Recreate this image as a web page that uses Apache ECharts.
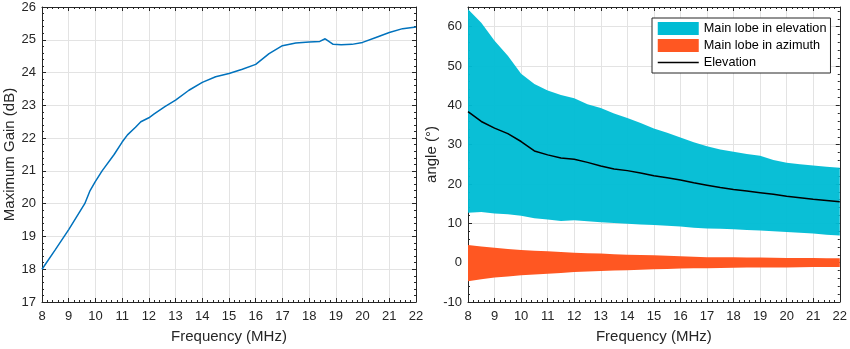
<!DOCTYPE html>
<html>
<head>
<meta charset="utf-8">
<script src="https://cdn.jsdelivr.net/npm/echarts@6/dist/echarts.min.js"></script>
<style>html,body{margin:0;padding:0;background:#fff}#c{width:850px;height:349px}</style>
</head>
<body>
<div id="c"></div>
<script>
// ---- Left panel: maximum gain ----
const gainFreq = [8, 8.5, 9, 9.6, 9.8, 10, 10.25, 10.7, 11, 11.2, 11.5, 11.7, 12, 12.2, 12.6, 13, 13.5, 14, 14.5, 15, 15.5, 16, 16.5, 17, 17.5, 18, 18.4, 18.6, 18.9, 19.2, 19.6, 20, 20.5, 21, 21.5, 22];
const gain = [18.0, 18.6, 19.21, 20.0, 20.4, 20.68, 21.0, 21.5, 21.88, 22.1, 22.33, 22.5, 22.62, 22.74, 22.96, 23.16, 23.46, 23.7, 23.87, 23.97, 24.1, 24.25, 24.58, 24.82, 24.9, 24.93, 24.95, 25.03, 24.86, 24.85, 24.86, 24.92, 25.07, 25.22, 25.34, 25.39];

// ---- Right panel: lobes ----
const bandFreq = [8, 8.5, 9, 9.5, 10, 10.5, 11, 11.5, 12, 12.5, 13, 13.5, 14, 14.5, 15, 15.5, 16, 16.5, 17, 17.5, 18, 18.5, 19, 19.5, 20, 20.5, 21, 21.5, 22];
const elevUpper = [64.4, 61.0, 56.4, 52.6, 48.0, 45.4, 43.8, 42.6, 41.8, 40.3, 39.3, 37.9, 36.8, 35.5, 34.1, 33.0, 31.8, 30.6, 29.6, 28.8, 28.2, 27.6, 27.2, 26.1, 25.4, 25.0, 24.7, 24.4, 24.1];
const elevLower = [12.7, 12.9, 12.5, 12.3, 11.9, 11.3, 11.0, 10.6, 10.8, 10.5, 10.3, 10.1, 9.9, 9.7, 9.6, 9.4, 9.2, 8.9, 8.7, 8.6, 8.5, 8.3, 8.2, 8.0, 7.8, 7.6, 7.4, 7.1, 6.9];
const elevation = [38.4, 35.9, 34.2, 32.8, 30.8, 28.4, 27.4, 26.6, 26.3, 25.5, 24.6, 23.8, 23.4, 22.8, 22.1, 21.6, 21.0, 20.3, 19.7, 19.1, 18.6, 18.2, 17.8, 17.4, 16.9, 16.5, 16.1, 15.8, 15.5];
const aziUpper = [4.5, 4.1, 3.8, 3.5, 3.2, 3.05, 2.9, 2.7, 2.5, 2.4, 2.3, 2.15, 2.0, 1.95, 1.9, 1.75, 1.6, 1.5, 1.4, 1.38, 1.35, 1.32, 1.3, 1.25, 1.2, 1.2, 1.2, 1.15, 1.1];
const aziLower = [-4.7, -4.2, -3.8, -3.5, -3.2, -3.0, -2.8, -2.6, -2.4, -2.25, -2.1, -2.0, -1.9, -1.8, -1.7, -1.6, -1.5, -1.45, -1.4, -1.35, -1.3, -1.25, -1.2, -1.2, -1.2, -1.15, -1.1, -1.1, -1.1];

const legendNames = ['Main lobe in elevation', 'Main lobe in azimuth', 'Elevation'];

const CYAN = '#00BCD4', ORANGE = '#FF5722', LBLUE = '#0072BD';
const AX = '#262626', GRID = '#e3e3e3';
const pairs = (xs, ys) => xs.map((x, i) => [x, ys[i]]);

function xAx(gi, pos, show) {
  return {
    type: 'value', gridIndex: gi, position: pos, min: 8, max: 22, interval: 1,
    name: show ? 'Frequency (MHz)' : '', nameLocation: 'middle', nameGap: 27,
    nameTextStyle: {fontSize: 15, color: AX, fontFamily: 'Liberation Sans'},
    axisLine: {show: true, onZero: false, lineStyle: {color: AX, width: 1}},
    axisTick: {show: true, inside: true, length: 4, lineStyle: {color: AX}},
    minorTick: {show: true, splitNumber: 5, length: 2, lineStyle: {color: AX}},
    axisLabel: {show: show, fontSize: 13, color: AX, margin: 8, fontFamily: 'Liberation Sans'},
    splitLine: {show: show, lineStyle: {color: GRID, width: 1}}
  };
}
function yAx(gi, pos, show, min, max, interval, name, gap) {
  return {
    type: 'value', gridIndex: gi, position: pos, min: min, max: max, interval: interval,
    name: show ? name : '', nameLocation: 'middle', nameGap: gap,
    nameTextStyle: {fontSize: 15, color: AX, fontFamily: 'Liberation Sans'},
    axisLine: {show: true, onZero: false, lineStyle: {color: AX, width: 1}},
    axisTick: {show: true, inside: true, length: 4, lineStyle: {color: AX}},
    minorTick: {show: true, splitNumber: 5, length: 2, lineStyle: {color: AX}},
    axisLabel: {show: show, fontSize: 13, color: AX, margin: 6, fontFamily: 'Liberation Sans',
      formatter: v => (min === -10 && v > 60) ? '' : String(v)},
    splitLine: {show: show, lineStyle: {color: GRID, width: 1}}
  };
}

function bandSeries(name, up, lo, color, opacity) {
  return {
    type: 'custom', name: name, coordinateSystem: 'cartesian2d', xAxisIndex: 2, yAxisIndex: 2,
    data: [[bandFreq[0], lo[0]]], silent: true, clip: true,
    itemStyle: {color: color},
    renderItem: function (params, api) {
      const pts = [];
      for (let i = 0; i < bandFreq.length; i++) pts.push(api.coord([bandFreq[i], up[i]]));
      for (let i = bandFreq.length - 1; i >= 0; i--) pts.push(api.coord([bandFreq[i], lo[i]]));
      return {type: 'polygon', shape: {points: pts}, style: {fill: color, opacity: opacity, stroke: null}};
    }
  };
}

const chart = echarts.init(document.getElementById('c'), null, {renderer: 'canvas'});
chart.setOption({
  animation: false,
  backgroundColor: '#fff',
  grid: [
    {left: 42, right: 434, top: 7, bottom: 46},
    {left: 468, right: 9, top: 7, bottom: 46}
  ],
  xAxis: [xAx(0, 'bottom', true), xAx(0, 'top', false), xAx(1, 'bottom', true), xAx(1, 'top', false)],
  yAxis: [
    yAx(0, 'left', true, 17, 26, 1, 'Maximum Gain (dB)', 25),
    yAx(0, 'right', false, 17, 26, 1, '', 0),
    yAx(1, 'left', true, -10, 65, 10, 'angle (°)', 27),
    yAx(1, 'right', false, -10, 65, 10, '', 0)
  ],
  legend: {
    orient: 'vertical', left: 652, top: 18,
    data: [
      {name: legendNames[0], icon: 'rect', itemStyle: {color: CYAN}},
      {name: legendNames[1], icon: 'rect', itemStyle: {color: ORANGE}},
      {name: legendNames[2], itemStyle: {opacity: 0}, lineStyle: {color: '#000', width: 1.5}}
    ],
    itemWidth: 41, itemHeight: 13, itemGap: 4,
    padding: [4, 4, 4, 5],
    backgroundColor: '#fff', borderColor: AX, borderWidth: 1, borderRadius: 0,
    textStyle: {fontSize: 12.7, color: '#000', fontFamily: 'Liberation Sans'}
  },
  series: [
    {type: 'line', xAxisIndex: 0, yAxisIndex: 0, data: pairs(gainFreq, gain),
     symbol: 'none', lineStyle: {color: LBLUE, width: 1.5}, itemStyle: {color: LBLUE}},
    bandSeries(legendNames[0], elevUpper, elevLower, CYAN, 0.96),
    bandSeries(legendNames[1], aziUpper, aziLower, ORANGE, 1),
    {type: 'line', name: legendNames[2], xAxisIndex: 2, yAxisIndex: 2,
     data: pairs(bandFreq, elevation), symbol: 'none',
     lineStyle: {color: '#000', width: 1.5}, itemStyle: {color: '#000'}}
  ]
});
</script>
</body>
</html>
